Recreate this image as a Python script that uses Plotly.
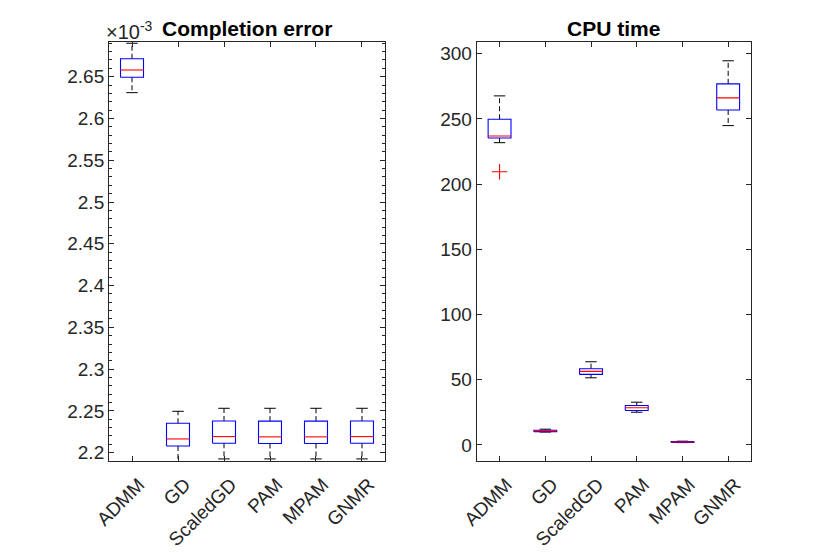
import plotly.graph_objects as go
from plotly.subplots import make_subplots

methods = ['ADMM', 'GD', 'ScaledGD', 'PAM', 'MPAM', 'GNMR']

# completion error (box statistics)
err_lo = [2.6309e-3, 2.1890e-3, 2.1925e-3, 2.1925e-3, 2.1925e-3, 2.1925e-3]
err_q1 = [2.6493e-3, 2.2080e-3, 2.2112e-3, 2.2110e-3, 2.2110e-3, 2.2112e-3]
err_med = [2.6580e-3, 2.2164e-3, 2.2192e-3, 2.2189e-3, 2.2189e-3, 2.2192e-3]
err_q3 = [2.6715e-3, 2.2352e-3, 2.2379e-3, 2.2377e-3, 2.2377e-3, 2.2379e-3]
err_hi = [2.6900e-3, 2.2495e-3, 2.2531e-3, 2.2531e-3, 2.2531e-3, 2.2531e-3]

# cpu time (box statistics)
cpu_lo = [231.8, 9.9, 51.5, 25.1, 1.8, 244.9]
cpu_q1 = [235.4, 10.2, 54.1, 26.4, 2.0, 256.9]
cpu_med = [236.9, 10.8, 56.4, 28.5, 2.3, 266.2]
cpu_q3 = [249.8, 11.3, 58.5, 30.3, 2.6, 276.9]
cpu_hi = [267.7, 12.1, 63.8, 32.8, 2.9, 294.6]
cpu_out_x = ['ADMM']
cpu_out_y = [209.5]

FONT = "Liberation Sans, Arial, sans-serif"
AX = '#262626'


def box_traces(lo, q1, med, q3, hi, scale=1.0):
    bx, by, mx, my, wx, wy, cx, cy = [], [], [], [], [], [], [], []
    for i in range(len(methods)):
        p = i + 1
        a, b, m, c, d = [v * scale for v in (lo[i], q1[i], med[i], q3[i], hi[i])]
        bx += [p - 0.25, p + 0.25, p + 0.25, p - 0.25, p - 0.25, None]
        by += [b, b, c, c, b, None]
        mx += [p - 0.25, p + 0.25, None]
        my += [m, m, None]
        wx += [p, p, None, p, p, None]
        wy += [c, d, None, b, a, None]
        cx += [p - 0.125, p + 0.125, None, p - 0.125, p + 0.125, None]
        cy += [d, d, None, a, a, None]
    common = dict(mode='lines', showlegend=False, hoverinfo='skip')
    return [
        go.Scatter(x=wx, y=wy, line=dict(color='black', width=1, dash='5px,3px'), **common),
        go.Scatter(x=cx, y=cy, line=dict(color='black', width=1), **common),
        go.Scatter(x=bx, y=by, line=dict(color='blue', width=1.1), **common),
        go.Scatter(x=mx, y=my, line=dict(color='red', width=1.1), **common),
    ]


fig = make_subplots(rows=1, cols=2)
for t in box_traces(err_lo, err_q1, err_med, err_q3, err_hi, scale=1e3):
    fig.add_trace(t, row=1, col=1)
for t in box_traces(cpu_lo, cpu_q1, cpu_med, cpu_q3, cpu_hi):
    fig.add_trace(t, row=1, col=2)
fig.add_trace(go.Scatter(x=[methods.index(m) + 1 for m in cpu_out_x], y=cpu_out_y,
                         mode='markers', showlegend=False,
                         marker=dict(symbol='cross-thin', size=11, line=dict(color='red', width=1.1))),
              row=1, col=2)

xax = dict(tickvals=list(range(1, 7)), ticktext=methods, range=[0.5, 6.5], tickangle=-45,
           ticks='inside', ticklen=5, tickcolor=AX, showline=True, linecolor=AX, linewidth=1,
           mirror='ticks', showgrid=False, zeroline=False, automargin=False,
           ticklabelshift=7, ticklabelstandoff=4,
           tickfont=dict(family=FONT, size=19, color=AX))
yax = dict(ticks='inside', ticklen=5, tickcolor=AX, showline=True, linecolor=AX, linewidth=1,
           mirror='ticks', showgrid=False, zeroline=False, automargin=False,
           tickfont=dict(family=FONT, size=19, color=AX))

# page body has an 8px margin, so domains are shifted up-left by that amount
fig.update_xaxes(**xax)
fig.update_xaxes(domain=[0.1217, 0.4542], row=1, col=1)
fig.update_xaxes(domain=[0.5647, 0.8952], row=1, col=2)
fig.update_yaxes(**yax)
fig.update_yaxes(domain=[0.1823, 0.9386], range=[2.190, 2.6915], dtick=0.05, tick0=2.2,
                 minor=dict(dtick=0.01, ticks='inside', ticklen=3, tickcolor=AX), row=1, col=1)
fig.update_yaxes(domain=[0.1823, 0.9386], range=[-12.3, 309], dtick=50, tick0=0, row=1, col=2)

fig.update_layout(
    width=830, height=554,
    margin=dict(l=0, r=0, t=0, b=0),
    paper_bgcolor='white', plot_bgcolor='white',
    annotations=[
        dict(text='<b>Completion error</b>', xref='x domain', yref='y domain', x=0.5, y=1,
             yshift=0, xanchor='center', yanchor='bottom', showarrow=False,
             font=dict(family=FONT, size=21, color='black')),
        dict(text='<b>CPU time</b>', xref='x2 domain', yref='y2 domain', x=0.5, y=1,
             yshift=0, xanchor='center', yanchor='bottom', showarrow=False,
             font=dict(family=FONT, size=21, color='black')),
        dict(text='×10<sup>-3</sup>', xref='x domain', yref='y domain', x=0, y=1,
             xshift=-5, yshift=-3, xanchor='left', yanchor='bottom', showarrow=False,
             font=dict(family=FONT, size=20, color=AX)),
    ],
)

fig.write_html("out.html")
